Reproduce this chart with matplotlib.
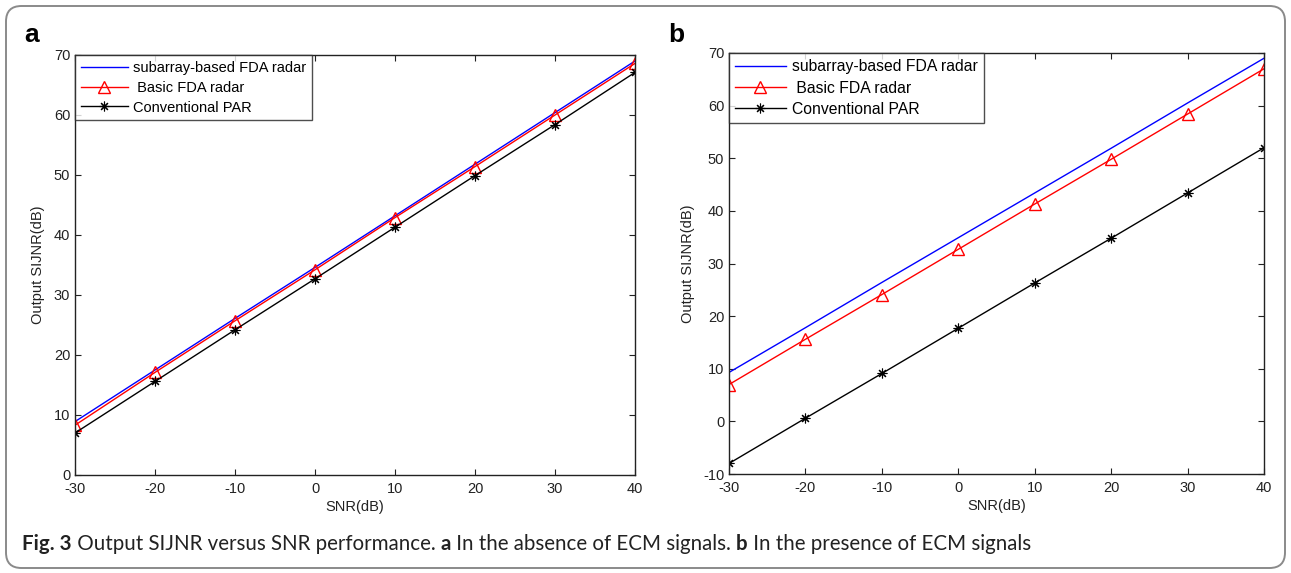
import matplotlib
matplotlib.use('Agg')
import matplotlib.pyplot as plt
from matplotlib.patches import FancyBboxPatch

snr = [-30, -20, -10, 0, 10, 20, 30, 40]

# panel a: without ECM signals
a_subarray = [8.9, 17.5, 26.1, 34.6, 43.2, 51.8, 60.4, 69.0]
a_basic = [8.3, 17.1, 25.7, 34.2, 42.9, 51.4, 60.0, 68.6]
a_par = [7.0, 15.6, 24.2, 32.7, 41.3, 49.9, 58.4, 67.1]

# panel b: with ECM signals
b_subarray = [9.3, 17.8, 26.4, 34.9, 43.4, 51.9, 60.5, 69.0]
b_basic = [7.0, 15.6, 24.1, 32.7, 41.3, 49.8, 58.4, 67.0]
b_par = [-8.0, 0.6, 9.1, 17.7, 26.3, 34.8, 43.4, 52.0]

labels = ['subarray-based FDA radar', ' Basic FDA radar', 'Conventional PAR']
x_ticks = [-30, -20, -10, 0, 10, 20, 30, 40]

plt.rcParams['font.family'] = ['Liberation Sans', 'DejaVu Sans']
plt.rcParams['axes.unicode_minus'] = False

fig = plt.figure(figsize=(12.91, 5.73), dpi=100)

border = FancyBboxPatch((6 / 1291, 5 / 573), 1279 / 1291, 562 / 573,
                        boxstyle='round,pad=0,rounding_size=0.012',
                        transform=fig.transFigure, fill=False,
                        edgecolor='#8a8a8a', linewidth=1.4, mutation_aspect=1291 / 573)
fig.patches.append(border)


def draw_panel(ax, sub, basic, par, ylim, yticks, legsize):
    ax.plot(snr, sub, color='blue', lw=1.0, label=labels[0])
    ax.plot(snr, basic, color='red', lw=1.0, marker='^', markersize=8,
            markerfacecolor='none', markeredgecolor='red', markeredgewidth=1.0,
            label=labels[1])
    ax.plot(snr, par, color='black', lw=1.0, marker=(8, 2, 0), markersize=7,
            markeredgewidth=0.8, label=labels[2])
    ax.set_xlim(-30, 40)
    ax.set_ylim(*ylim)
    ax.set_xticks(x_ticks)
    ax.set_yticks(yticks)
    ax.tick_params(direction='in', top=True, right=True, length=4,
                   width=0.8, labelsize=10.5, colors='#222222')
    ax.tick_params(axis='x', pad=5)
    for s in ax.spines.values():
        s.set_linewidth(1.0)
        s.set_color('#222222')
    ax.set_xlabel('SNR(dB)', fontsize=10.5, color='#222222', labelpad=3)
    ax.set_ylabel('Output SIJNR(dB)', fontsize=10.5, color='#222222', labelpad=6)
    leg = ax.legend(loc='upper left', fontsize=legsize, frameon=True, fancybox=False,
                    borderaxespad=0, handlelength=3.2, borderpad=0.4,
                    labelspacing=0.4, handletextpad=0.4)
    leg.get_frame().set_edgecolor('#222222')
    leg.get_frame().set_linewidth(1.0)


ax1 = fig.add_axes([75 / 1291, 1 - 475 / 573, 560 / 1291, 420 / 573])
draw_panel(ax1, a_subarray, a_basic, a_par, (0, 70), list(range(0, 71, 10)), 10.5)

ax2 = fig.add_axes([729 / 1291, 1 - 474 / 573, 535 / 1291, 421 / 573])
draw_panel(ax2, b_subarray, b_basic, b_par, (-10, 70), list(range(-10, 71, 10)), 11.3)

fig.text(24 / 1291, 1 - 35 / 573, 'a', fontsize=19, fontweight='bold', va='center')
fig.text(668 / 1291, 1 - 35 / 573, 'b', fontsize=19, fontweight='bold', va='center')

# caption with mixed bold / regular pieces
pieces = [('Fig. 3', 'bold'), (' Output SIJNR versus SNR performance. ', 'normal'),
          ('a', 'bold'), (' In the absence of ECM signals. ', 'normal'),
          ('b', 'bold'), (' In the presence of ECM signals', 'normal')]
fig.canvas.draw()
renderer = fig.canvas.get_renderer()
x = 22
for txt, w in pieces:
    t = fig.text(x / 1291, 1 - 544 / 573, txt, fontsize=14.8, fontweight=w,
                 family='Lato', va='center', color='#222222')
    bb = t.get_window_extent(renderer=renderer)
    x += bb.width

fig.savefig('out.png', dpi=100)
